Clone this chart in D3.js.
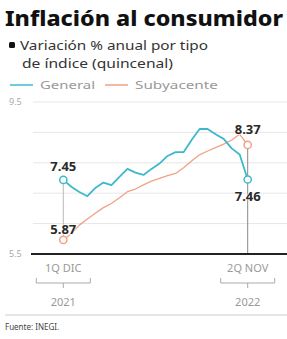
<!DOCTYPE html>
<html>
<head>
<meta charset="utf-8">
<script src="https://cdn.jsdelivr.net/npm/d3@7"></script>
<style>
    body { margin: 0; background: #fff; }
    svg { display: block; font-family: "Noto Sans", sans-serif; }
</style>
</head>
<body>
<svg></svg>
<script>

// quincenas 1Q Dic 2021 .. 2Q Nov 2022
const periods = [
    "1Q DIC", "2Q DIC", "1Q ENE", "2Q ENE", "1Q FEB", "2Q FEB",
    "1Q MAR", "2Q MAR", "1Q ABR", "2Q ABR", "1Q MAY", "2Q MAY",
    "1Q JUN", "2Q JUN", "1Q JUL", "2Q JUL", "1Q AGO", "2Q AGO",
    "1Q SEP", "2Q SEP", "1Q OCT", "2Q OCT", "1Q NOV", "2Q NOV"
]

const general = [
    7.45, 7.27, 7.13, 7.02, 7.24, 7.38,
    7.31, 7.53, 7.74, 7.64, 7.58, 7.74,
    7.88, 8.08, 8.18, 8.18, 8.50, 8.79,
    8.79, 8.65, 8.53, 8.28, 8.12, 7.46
]

const subyacente = [
    5.87, 6.04, 6.26, 6.42, 6.57, 6.72,
    6.83, 6.98, 7.14, 7.21, 7.32, 7.42,
    7.49, 7.56, 7.62, 7.77, 7.95, 8.11,
    8.21, 8.30, 8.39, 8.50, 8.65, 8.37
]

const gridValues = [5.5, 6.3, 7.1, 7.9, 8.7, 9.5]
const yLabels = ["5.5", "9.5"]
const xLabels = ["1Q DIC", "2Q NOV"]
const yearLabels = ["2021", "2022"]

const cyan = "#3fb8cc"
const orange = "#f2a185"

const svg = d3.select("svg")
    .attr("width", 287)
    .attr("height", 339)

const x = d3.scalePoint()
    .domain(periods)
    .range([63.3, 247.7])

const y = d3.scaleLinear()
    .domain([5.5, 9.5])
    .range([254, 102])

// title
svg.append("text")
    .attr("x", 5)
    .attr("y", 26)
    .attr("textLength", 278)
    .attr("lengthAdjust", "spacingAndGlyphs")
    .style("font-size", "22px")
    .style("font-weight", 800)
    .style("fill", "#111")
    .text("Inflación al consumidor")

// subtitle
svg.append("rect")
    .attr("x", 9)
    .attr("y", 42)
    .attr("width", 6)
    .attr("height", 6)
    .attr("rx", 1.5)
    .style("fill", "#111")

svg.append("text")
    .attr("x", 20)
    .attr("y", 50)
    .attr("textLength", 188)
    .attr("lengthAdjust", "spacingAndGlyphs")
    .style("font-size", "12.5px")
    .style("fill", "#333")
    .text("Variación % anual por tipo")

svg.append("text")
    .attr("x", 22)
    .attr("y", 68)
    .attr("textLength", 151)
    .attr("lengthAdjust", "spacingAndGlyphs")
    .style("font-size", "12.5px")
    .style("fill", "#333")
    .text("de índice (quincenal)")

// legend
const legend = [
    { name: "General", color: cyan, x: 10, w: 55 },
    { name: "Subyacente", color: orange, x: 105, w: 83 }
]

legend.forEach(function (d) {
    svg.append("line")
        .attr("x1", d.x)
        .attr("x2", d.x + 23)
        .attr("y1", 85)
        .attr("y2", 85)
        .style("stroke", d.color)
        .style("stroke-width", 1.5)

    svg.append("text")
        .attr("x", d.x + 30)
        .attr("y", 89)
        .attr("textLength", d.w)
        .attr("lengthAdjust", "spacingAndGlyphs")
        .style("font-size", "11px")
        .style("fill", "#999")
        .text(d.name)
})

// gridlines
svg.append("g")
    .selectAll("line")
    .data(gridValues.slice(1))
    .enter()
    .append("line")
    .attr("x1", 33)
    .attr("x2", 287)
    .attr("y1", d => y(d))
    .attr("y2", d => y(d))
    .style("stroke", "#e6e6e6")
    .style("stroke-width", 1)

svg.append("g")
    .selectAll("text")
    .data(yLabels)
    .enter()
    .append("text")
    .attr("x", 9)
    .attr("y", d => y(+d) + 3)
    .style("font-size", "9px")
    .style("fill", "#aaa")
    .text(d => d)

// vertical guide lines
const first = periods[0]
const last = periods[periods.length - 1]

svg.append("line")
    .attr("x1", x(first))
    .attr("x2", x(first))
    .attr("y1", y(general[0]))
    .attr("y2", y(subyacente[0]))
    .style("stroke", "#bbb")
    .style("stroke-width", 1)

svg.append("line")
    .attr("x1", x(last))
    .attr("x2", x(last))
    .attr("y1", y(subyacente[subyacente.length - 1]))
    .attr("y2", y(5.5))
    .style("stroke", "#888")
    .style("stroke-width", 1)

// lines
const lineGen = d3.line()
    .x((d, i) => x(periods[i]))
    .y(d => y(d))

const series = [
    { values: subyacente, color: orange, width: 1.3 },
    { values: general, color: cyan, width: 1.8 }
]

series.forEach(function (s) {
    svg.append("path")
        .datum(s.values)
        .attr("d", lineGen)
        .style("fill", "none")
        .style("stroke", s.color)
        .style("stroke-width", s.width)
        .style("stroke-linejoin", "round")
})

// end markers
series.forEach(function (s) {
    const pts = [0, s.values.length - 1]
    pts.forEach(function (i) {
        svg.append("circle")
            .attr("cx", x(periods[i]))
            .attr("cy", y(s.values[i]))
            .attr("r", 3.6)
            .style("fill", "#fff")
            .style("stroke", s.color)
            .style("stroke-width", 1.5)
    })
})

// value labels
const valueLabels = [
    { v: general[0], i: 0, dy: -9 },
    { v: subyacente[0], i: 0, dy: -6 },
    { v: subyacente[23], i: 23, dy: -11 },
    { v: general[23], i: 23, dy: 21 }
]

valueLabels.forEach(function (d) {
    svg.append("text")
        .attr("x", x(periods[d.i]))
        .attr("y", y(d.v) + d.dy)
        .attr("text-anchor", "middle")
        .style("font-size", "13px")
        .style("font-weight", 700)
        .style("fill", "#2a2a2a")
        .style("paint-order", "stroke")
        .style("stroke", "#fff")
        .style("stroke-width", 2)
        .style("stroke-opacity", 0.6)
        .text(d.v.toFixed(2))
})

// baseline
svg.append("line")
    .attr("x1", 31)
    .attr("x2", 287)
    .attr("y1", y(5.5))
    .attr("y2", y(5.5))
    .style("stroke", "#222")
    .style("stroke-width", 2)

// x labels with brackets
xLabels.forEach(function (lab, k) {
    const cx = x(lab)
    svg.append("text")
        .attr("x", cx)
        .attr("y", 272)
        .attr("text-anchor", "middle")
        .style("font-size", "11px")
        .style("fill", "#999")
        .text(lab)

    svg.append("path")
        .attr("d", `M${cx - 27},278 V283 H${cx + 27} V278 M${cx},283 V288`)
        .style("fill", "none")
        .style("stroke", "#aaa")
        .style("stroke-width", 1)

    svg.append("text")
        .attr("x", cx)
        .attr("y", 306)
        .attr("text-anchor", "middle")
        .style("font-size", "11px")
        .style("fill", "#999")
        .text(yearLabels[k])
})

// footer
svg.append("line")
    .attr("x1", 5)
    .attr("x2", 287)
    .attr("y1", 315)
    .attr("y2", 315)
    .style("stroke", "#ccc")
    .style("stroke-width", 1)

svg.append("text")
    .attr("x", 5)
    .attr("y", 330)
    .style("font-size", "8px")
    .style("fill", "#444")
    .text("Fuente: INEGI.")

</script>
</body>
</html>
